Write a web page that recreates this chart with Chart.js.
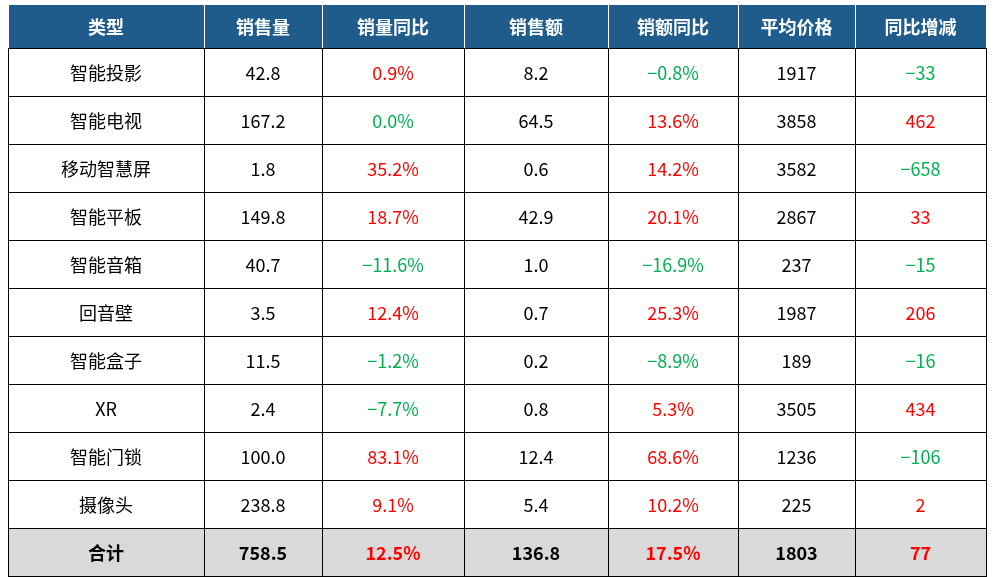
<!DOCTYPE html>
<html><head><meta charset="utf-8">
<script src="https://cdn.jsdelivr.net/npm/chart.js@4/dist/chart.umd.min.js"></script>
<style>html,body{margin:0;padding:0;background:#fff}#w{width:995px;height:577px}</style>
</head><body><div id="w"><canvas id="c"></canvas></div>
<script>
const headers = ['类型','销售量','销量同比','销售额','销额同比','平均价格','同比增减'];
const categories = ['智能投影','智能电视','移动智慧屏','智能平板','智能音箱','回音壁','智能盒子','XR','智能门锁','摄像头'];
const sales = [42.8,167.2,1.8,149.8,40.7,3.5,11.5,2.4,100.0,238.8];
const salesYoY = [0.9,0.0,35.2,18.7,-11.6,12.4,-1.2,-7.7,83.1,9.1];
const revenue = [8.2,64.5,0.6,42.9,1.0,0.7,0.2,0.8,12.4,5.4];
const revenueYoY = [-0.8,13.6,14.2,20.1,-16.9,25.3,-8.9,5.3,68.6,10.2];
const avgPrice = [1917,3858,3582,2867,237,1987,189,3505,1236,225];
const priceChange = [-33,462,-658,33,-15,206,-16,434,-106,2];
const totalLabel = '合计';
const totals = [758.5,12.5,136.8,17.5,1803,77];

const colWidths = [196,118,142,144,130,117,131];
const headerH = 44, rowH = 48;
const RED='#ff0000', GREEN='#00b050', HEAD='#1f5c8c', GREY='#d9d9d9';
const pct = v => (v<0?'−':'')+Math.abs(v).toFixed(1)+'%';
const sgn = v => (v<0?'−':'')+Math.abs(v);
const col = v => v>0?RED:GREEN;

function rowCells(i){
  return [
    [categories[i],'#000'],[sales[i].toFixed(1),'#000'],[pct(salesYoY[i]),col(salesYoY[i])],
    [revenue[i].toFixed(1),'#000'],[pct(revenueYoY[i]),col(revenueYoY[i])],
    [String(avgPrice[i]),'#000'],[sgn(priceChange[i]),col(priceChange[i])]
  ];
}
const totalW = colWidths.reduce((a,b)=>a+b,0);
const totalH = headerH + rowH*(categories.length+1);

const tablePlugin = {
  id:'table',
  afterDraw(chart){
    const {ctx, scales:{x,y}} = chart;
    const edges=[0]; colWidths.forEach(w=>edges.push(edges[edges.length-1]+w));
    const rows=[]; // [top,bottom,cells,bg,bold]
    rows.push([0,headerH,headers.map(h=>[h,'#fff']),HEAD,true]);
    categories.forEach((c,i)=>rows.push([headerH+rowH*i,headerH+rowH*(i+1),rowCells(i),'#fff',false]));
    const tc=[[totalLabel,'#000'],[totals[0].toFixed(1),'#000'],[pct(totals[1]),col(totals[1])],[totals[2].toFixed(1),'#000'],[pct(totals[3]),col(totals[3])],[String(totals[4]),'#000'],[sgn(totals[5]),col(totals[5])]];
    rows.push([headerH+rowH*categories.length,totalH,tc,GREY,true]);
    ctx.save();
    ctx.textAlign='center'; ctx.textBaseline='middle';
    rows.forEach(([t,b,cells,bg,bold])=>{
      const py0=y.getPixelForValue(t), py1=y.getPixelForValue(b);
      cells.forEach((cell,j)=>{
        const px0=x.getPixelForValue(edges[j]), px1=x.getPixelForValue(edges[j+1]);
        ctx.fillStyle=bg; ctx.fillRect(px0,py0,px1-px0,py1-py0);
        ctx.strokeStyle = bg===HEAD ? '#ffffff' : '#000'; ctx.lineWidth=1;
        ctx.strokeRect(Math.round(px0)+0.5,Math.round(py0)+0.5,px1-px0,py1-py0);
        ctx.fillStyle=cell[1];
        ctx.font=(bold?'bold ':'')+'18px "Noto Sans CJK SC"';
        ctx.fillText(cell[0],(px0+px1)/2,(py0+py1)/2+1);
      });
    });
    ctx.restore();
  }
};

new Chart(document.getElementById('c'),{
  type:'scatter',
  data:{datasets:[{data:[]}]},
  options:{
    responsive:true, maintainAspectRatio:false, animation:false,
    layout:{padding:{left:8,right:9,top:4,bottom:1}},
    plugins:{legend:{display:false},tooltip:{enabled:false}},
    scales:{
      x:{type:'linear',min:0,max:totalW,display:false},
      y:{type:'linear',min:0,max:totalH,reverse:true,display:false}
    }
  },
  plugins:[tablePlugin]
});
</script></body></html>
